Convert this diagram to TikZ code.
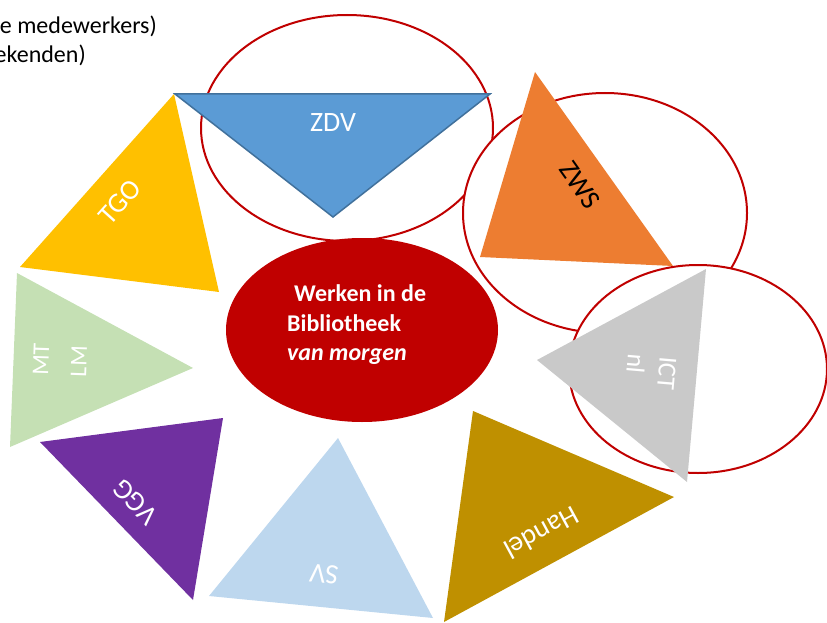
\documentclass[tikz,border=0pt]{standalone}
\usepackage{fontspec}
\setmainfont{Carlito}
\definecolor{ringred}{HTML}{C00000}
\definecolor{zdvblue}{HTML}{5B9BD5}
\definecolor{zdvedge}{HTML}{41719C}
\definecolor{tgoyellow}{HTML}{FFC000}
\definecolor{zwsorange}{HTML}{ED7D31}
\definecolor{ictgray}{HTML}{C9C9C9}
\definecolor{handelgold}{HTML}{BF9000}
\definecolor{svblue}{HTML}{BDD7EE}
\definecolor{vggpurple}{HTML}{7030A0}
\definecolor{mtgreen}{HTML}{C5E0B4}
\begin{document}
\begin{tikzpicture}[x=1pt,y=-1pt,
  ring/.style={draw=ringred, line width=2pt, fill=white},
  lbl/.style={text=white, inner sep=0pt, font=\fontsize{28}{34}\selectfont},
  small/.style={text=white, inner sep=0pt, align=left},
  toptext/.style={inner sep=0pt, anchor=base east, font=\fontsize{24}{29}\selectfont},
  centertext/.style={text=white, inner sep=0pt, anchor=base west, font=\fontsize{24}{29}\selectfont\bfseries}]
\useasboundingbox (0,0) rectangle (827,623);

% top-left text
\node[toptext] (t1) at (157,34) {e medewerkers)};
\node[toptext] (t2) at (86,63) {ekenden)};

% outline ellipses
\draw[ring] (347,128) ellipse [x radius=146, y radius=113];
\draw[ring] (605,213) ellipse [x radius=142, y radius=120];
\draw[ring] (698,369) ellipse [x radius=129, y radius=104];

% central ellipse
\fill[ringred] (362,330) ellipse [x radius=136, y radius=92];
\node[centertext] (c1) at (294,301) {Werken in de};
\node[centertext] (c2) at (287,331) {Bibliotheek};
\node[centertext] (c3) at (287,360) {\itshape van morgen};

% triangles
\fill[tgoyellow] (174,94) -- (20,267) -- (219,292) -- cycle;
\fill[mtgreen] (17,273) -- (10,447) -- (193,368) -- cycle;
\fill[vggpurple] (40,442) -- (223,418) -- (193,600) -- cycle;
\fill[svblue] (338,438) -- (209,596) -- (433,618) -- cycle;
\fill[handelgold] (473,411) -- (674,497) -- (444,622) -- cycle;
\fill[ictgray] (706,269) -- (537,360) -- (687,482) -- cycle;
\fill[zwsorange] (535,72) -- (480,257) -- (673,266) -- cycle;
\filldraw[fill=zdvblue, draw=zdvedge, line width=1.5pt] (175,94) -- (490,94) -- (333,217) -- cycle;

% labels
\node[lbl] (zdv) at (333,123) {ZDV};
\node[lbl, rotate=48] (tgo) at (120,202) {TGO};
\node[lbl, text=black, rotate=-54.6] (zws) at (580,185) {ZWS};
\node[small, rotate=-95, font=\fontsize{26}{32}\selectfont] (ict) at (651,372) {ICT\\nl};
\node[small, rotate=88, font=\fontsize{24}{38}\selectfont] (mt) at (60,360) {MT\\LM};
\node[lbl, rotate=208.5] (handel) at (542,533) {Handel};
\node[lbl, rotate=174.4] (sv) at (324,574) {SV};
\node[lbl, rotate=134] (vgg) at (135,502) {VGG};
\end{tikzpicture}
\end{document}
